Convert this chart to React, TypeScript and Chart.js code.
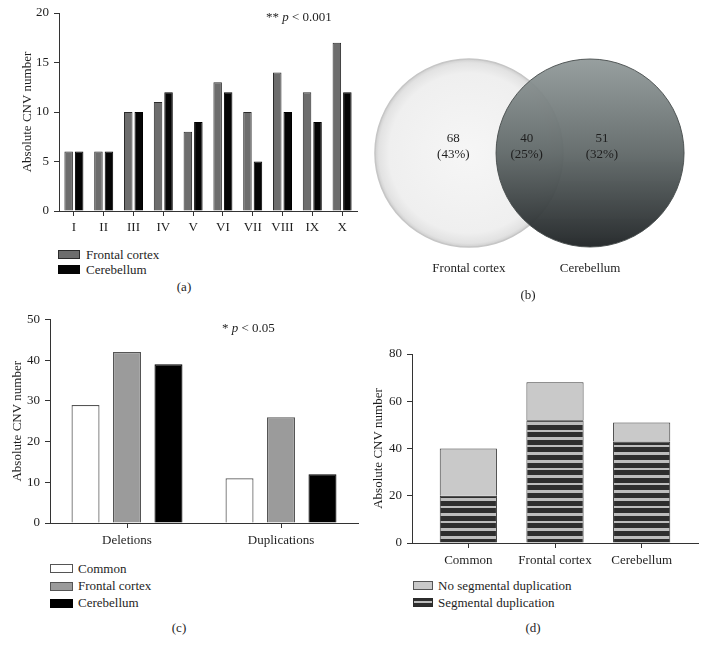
import React, { useEffect, useRef } from 'react';
import { Chart, registerables } from 'chart.js';

Chart.register(...registerables);

const FONT = '"Liberation Serif", "Times New Roman", serif';
const AXIS = '#333333';
const TXT = '#1e1e1e';

// ---- Panel (a): CNVs per region ----
const regionLabels = ['I', 'II', 'III', 'IV', 'V', 'VI', 'VII', 'VIII', 'IX', 'X'];
const frontalByRegion = [6, 6, 10, 11, 8, 13, 10, 14, 12, 17];
const cerebellumByRegion = [6, 6, 10, 12, 9, 12, 5, 10, 9, 12];

// ---- Panel (b): Venn ----
const vennSetNames = ['Frontal cortex', 'Cerebellum'];
const vennCounts = [68, 40, 51];
const vennPercents = [43, 25, 32];

// ---- Panel (c): deletions / duplications ----
const typeLabels = ['Deletions', 'Duplications'];
const commonByType = [29, 11];
const frontalByType = [42, 26];
const cerebellumByType = [39, 12];

// ---- Panel (d): segmental duplication ----
const groupLabels = ['Common', 'Frontal cortex', 'Cerebellum'];
const segDup = [20, 52, 43];
const noSegDup = [20, 16, 8];

const tickFont = { family: FONT, size: 13 };

function yAxis(max: number, step: number, width: number) {
  return {
    min: 0,
    max,
    border: { display: true, color: AXIS, width: 1 },
    grid: { drawOnChartArea: false, drawTicks: true, tickLength: 5, color: AXIS, lineWidth: 1 },
    ticks: { stepSize: step, padding: 5, color: TXT, font: tickFont },
    title: { display: true, text: 'Absolute CNV number', color: TXT, font: tickFont, padding: 0 },
    afterFit: (s: any) => {
      s.width = width;
    },
  };
}

function xCategory(height: number, pad: number) {
  return {
    type: 'category',
    offset: true,
    border: { display: true, color: AXIS, width: 1 },
    grid: { drawOnChartArea: false, drawTicks: true, tickLength: 5, color: AXIS, offset: false },
    ticks: { padding: pad, color: TXT, font: tickFont, maxRotation: 0, autoSkip: false },
    afterFit: (s: any) => {
      s.height = height;
    },
  };
}

const baseOptions = {
  animation: false,
  responsive: false,
  events: [],
  plugins: { legend: { display: false }, tooltip: { enabled: false } },
};

function makeA(): any {
  return {
    type: 'bar',
    data: {
      labels: regionLabels,
      datasets: [
        {
          label: 'Frontal cortex',
          data: frontalByRegion,
          backgroundColor: '#6d6d6d',
          borderColor: '#2b2b2b',
          borderWidth: 1,
          categoryPercentage: 0.705,
          barPercentage: 0.81,
        },
        {
          label: 'Cerebellum',
          data: cerebellumByRegion,
          backgroundColor: '#050505',
          borderColor: '#000',
          borderWidth: 1,
          categoryPercentage: 0.705,
          barPercentage: 0.81,
        },
      ],
    },
    options: {
      ...baseOptions,
      layout: { padding: { left: 20, right: 3, top: 13, bottom: 0 } },
      scales: { x: xCategory(34, 4), y: yAxis(20, 5, 39) },
    },
  };
}

function makeC(): any {
  const common = { borderWidth: 1.2, categoryPercentage: 0.808, barPercentage: 0.675 };
  return {
    type: 'bar',
    data: {
      labels: typeLabels,
      datasets: [
        { label: 'Common', data: commonByType, backgroundColor: '#ffffff', borderColor: '#555', ...common },
        { label: 'Frontal cortex', data: frontalByType, backgroundColor: '#9b9b9b', borderColor: '#555', ...common },
        { label: 'Cerebellum', data: cerebellumByType, backgroundColor: '#000000', borderColor: '#000', ...common },
      ],
    },
    options: {
      ...baseOptions,
      layout: { padding: { left: 10, right: 2, top: 19.5, bottom: 0 } },
      scales: { x: xCategory(32, 5), y: yAxis(50, 10, 40) },
    },
  };
}

function stripePattern(): any {
  const c = document.createElement('canvas');
  c.width = 4;
  c.height = 38;
  const g = c.getContext('2d');
  if (!g) return '#333';
  g.fillStyle = '#2e2e2e';
  g.fillRect(0, 0, 4, 38);
  g.fillStyle = '#bdbdbd';
  const periods = [8, 8, 7, 8, 7];
  const lights = [3, 3, 2, 3, 2];
  let y = 0;
  periods.forEach((p, i) => {
    g.fillRect(0, y, 4, lights[i]);
    y += p;
  });
  const pat = g.createPattern(c, 'repeat');
  return pat || '#333';
}

function makeD(): any {
  return {
    type: 'bar',
    data: {
      datasets: [
        {
          label: 'Segmental duplication',
          data: segDup.map((v, i) => ({ x: i, y: v })),
          backgroundColor: stripePattern(),
          borderColor: '#2a2a2a',
          borderWidth: 1,
          categoryPercentage: 1,
          barPercentage: 0.66,
        },
        {
          label: 'No segmental duplication',
          data: noSegDup.map((v, i) => ({ x: i, y: v })),
          backgroundColor: '#c9c9c9',
          borderColor: '#3a3a3a',
          borderWidth: 1,
          categoryPercentage: 1,
          barPercentage: 0.66,
        },
      ],
    },
    options: {
      ...baseOptions,
      layout: { padding: { left: 11, right: 9, top: 54, bottom: 0 } },
      scales: {
        x: {
          type: 'linear',
          min: -0.65,
          max: 2.65,
          offset: false,
          stacked: true,
          border: { display: true, color: AXIS, width: 1 },
          grid: { drawOnChartArea: false, drawTicks: true, tickLength: 5, color: AXIS, offset: false },
          afterBuildTicks: (s: any) => {
            s.ticks = groupLabels.map((_, i) => ({ value: i }));
          },
          ticks: {
            padding: 5,
            color: TXT,
            font: tickFont,
            maxRotation: 0,
            autoSkip: false,
            callback: (v: any) => groupLabels[Math.round(Number(v))] ?? '',
          },
          afterFit: (s: any) => {
            s.height = 32;
          },
        },
        y: { ...yAxis(80, 20, 41), stacked: true },
      },
    },
  };
}

// Venn geometry in circle-radius units
const vennCenterX = [-0.644, 0.644];
const vennLabelX = [-0.81, -0.03, 0.77];
const vennLabelY = 0.064;
const vennNameY = -1.234;

function ok(...v: number[]) {
  return v.every((n) => Number.isFinite(n));
}

function radiusPx(chart: any) {
  const sx = chart && chart.scales && chart.scales.x;
  if (!sx) return 0;
  const r = Math.abs(sx.getPixelForValue(1) - sx.getPixelForValue(0));
  return Number.isFinite(r) ? r : 0;
}

function makeB(): any {
  const vennText = {
    id: 'vennText',
    afterDatasetsDraw(chart: any) {
      const { ctx, scales } = chart;
      ctx.save();
      ctx.font = `13px ${FONT}`;
      ctx.fillStyle = TXT;
      ctx.textAlign = 'center';
      ctx.textBaseline = 'middle';
      const cy = scales.y.getPixelForValue(vennLabelY);
      vennCounts.forEach((n, i) => {
        const x = scales.x.getPixelForValue(vennLabelX[i]);
        ctx.fillText(String(n), x, cy - 8);
        ctx.fillText(`(${vennPercents[i]}%)`, x, cy + 8);
      });
      const ny = scales.y.getPixelForValue(vennNameY);
      vennSetNames.forEach((name, i) => {
        ctx.fillText(name, scales.x.getPixelForValue(vennCenterX[i]), ny);
      });
      ctx.restore();
    },
  };
  const leftFill = (c: any) => {
    try {
      if (c.type !== 'data' || !c.raw) return '#eeeeee';
      const ch = c.chart;
      const cx = ch.scales.x.getPixelForValue(c.raw.x);
      const cy = ch.scales.y.getPixelForValue(c.raw.y);
      const r = radiusPx(ch);
      if (!ok(cx, cy, r) || r <= 0) return '#eeeeee';
      const g = ch.ctx.createRadialGradient(cx, cy, 0, cx, cy, r);
      g.addColorStop(0, '#f6f6f6');
      g.addColorStop(0.85, '#efefef');
      g.addColorStop(0.96, '#e2e2e2');
      g.addColorStop(1, '#cfcfcf');
      return g;
    } catch (e) {
      return '#eeeeee';
    }
  };
  const rightFill = (c: any) => {
    try {
      if (c.type !== 'data' || !c.raw) return '#606868';
      const ch = c.chart;
      const cy = ch.scales.y.getPixelForValue(c.raw.y);
      const r = radiusPx(ch);
      if (!ok(cy, r) || r <= 0) return '#606868';
      const g = ch.ctx.createLinearGradient(0, cy - r, 0, cy + r);
      g.addColorStop(0, 'rgba(146,154,154,0.95)');
      g.addColorStop(0.5, 'rgba(96,104,104,0.95)');
      g.addColorStop(1, 'rgba(34,38,40,0.97)');
      return g;
    } catch (e) {
      return '#606868';
    }
  };
  return {
    type: 'scatter',
    data: {
      datasets: [
        {
          label: vennSetNames[1],
          data: [{ x: vennCenterX[1], y: 0 }],
          backgroundColor: rightFill,
          borderColor: 'rgba(70,75,75,0.9)',
          borderWidth: 1,
          pointStyle: 'circle',
          pointRadius: (c: any) => radiusPx(c.chart),
          order: 0,
        },
        {
          label: vennSetNames[0],
          data: [{ x: vennCenterX[0], y: 0 }],
          backgroundColor: leftFill,
          borderColor: '#c6c6c6',
          borderWidth: 1.5,
          pointStyle: 'circle',
          pointRadius: (c: any) => radiusPx(c.chart),
          order: 1,
        },
      ],
    },
    options: {
      ...baseOptions,
      layout: { padding: 0 },
      scales: {
        x: { type: 'linear', display: false, min: -1.803, max: 1.888 },
        y: { type: 'linear', display: false, min: -1.351, max: 1.628 },
      },
    },
    plugins: [vennText],
  };
}

function ChartBox(props: { left: number; top: number; width: number; height: number; make: () => any }) {
  const ref = useRef<HTMLCanvasElement>(null);
  useEffect(() => {
    if (!ref.current) return;
    let chart: any = null;
    try {
      chart = new Chart(ref.current, props.make());
    } catch (e) {
      console.error(e);
    }
    return () => {
      if (chart) chart.destroy();
    };
  }, []);
  const { left, top, width, height } = props;
  return (
    <canvas
      ref={ref}
      width={width}
      height={height}
      style={{ position: 'absolute', left, top, width, height, display: 'block' }}
    />
  );
}

function LegendRow(props: { x: number; y: number; w: number; h: number; tx: number; text: string; swatch: any }) {
  const { x, y, w, h, tx, text, swatch } = props;
  return (
    <>
      <div style={{ position: 'absolute', left: x, top: y, width: w, height: h, boxSizing: 'border-box', ...swatch }} />
      <div style={{ position: 'absolute', left: tx, top: y + h / 2 - 8, lineHeight: '16px', whiteSpace: 'nowrap' }}>{text}</div>
    </>
  );
}

function Caption(props: { x: number; y: number; text: string }) {
  return (
    <div
      style={{
        position: 'absolute',
        left: props.x - 30,
        width: 60,
        top: props.y - 8,
        lineHeight: '16px',
        textAlign: 'center',
      }}
    >
      {props.text}
    </div>
  );
}

export default function App() {
  const stripeCss = {
    background: 'linear-gradient(#2e2e2e 0 2px, #bdbdbd 2px 4px, #2e2e2e 4px 100%)',
    border: '1px solid #2a2a2a',
  };
  return (
    <div
      style={{
        position: 'absolute',
        left: 0,
        top: 0,
        width: 707,
        height: 654,
        background: '#ffffff',
        fontFamily: FONT,
        fontSize: 13,
        color: TXT,
        overflow: 'hidden',
      }}
    >
      <ChartBox left={0} top={0} width={360} height={245} make={makeA} />
      <ChartBox left={360} top={0} width={347} height={280} make={makeB} />
      <ChartBox left={0} top={300} width={360} height={255} make={makeC} />
      <ChartBox left={360} top={300} width={347} height={275} make={makeD} />

      {/* panel a */}
      <div style={{ position: 'absolute', left: 266, top: 9, lineHeight: '16px', whiteSpace: 'nowrap' }}>
        ** <i>p</i> &lt; 0.001
      </div>
      <LegendRow x={58} y={250} w={22} h={9} tx={86} text="Frontal cortex" swatch={{ background: '#6d6d6d', border: '1px solid #2b2b2b' }} />
      <LegendRow x={58} y={265} w={22} h={9} tx={86} text="Cerebellum" swatch={{ background: '#050505' }} />
      <Caption x={184} y={287} text="(a)" />

      {/* panel b */}
      <Caption x={528} y={295} text="(b)" />

      {/* panel c */}
      <div style={{ position: 'absolute', left: 222, top: 319.5, lineHeight: '16px', whiteSpace: 'nowrap' }}>
        * <i>p</i> &lt; 0.05
      </div>
      <LegendRow x={50} y={564} w={23} h={9} tx={78} text="Common" swatch={{ background: '#fff', border: '1px solid #555' }} />
      <LegendRow x={50} y={581.5} w={23} h={9} tx={78} text="Frontal cortex" swatch={{ background: '#9b9b9b', border: '1px solid #555' }} />
      <LegendRow x={50} y={598.5} w={23} h={9} tx={78} text="Cerebellum" swatch={{ background: '#000' }} />
      <Caption x={179} y={628} text="(c)" />

      {/* panel d */}
      <LegendRow x={413} y={581} w={20} h={9} tx={438} text="No segmental duplication" swatch={{ background: '#c9c9c9', border: '1px solid #555' }} />
      <LegendRow x={413} y={598} w={20} h={9} tx={438} text="Segmental duplication" swatch={stripeCss} />
      <Caption x={533} y={628} text="(d)" />
    </div>
  );
}
